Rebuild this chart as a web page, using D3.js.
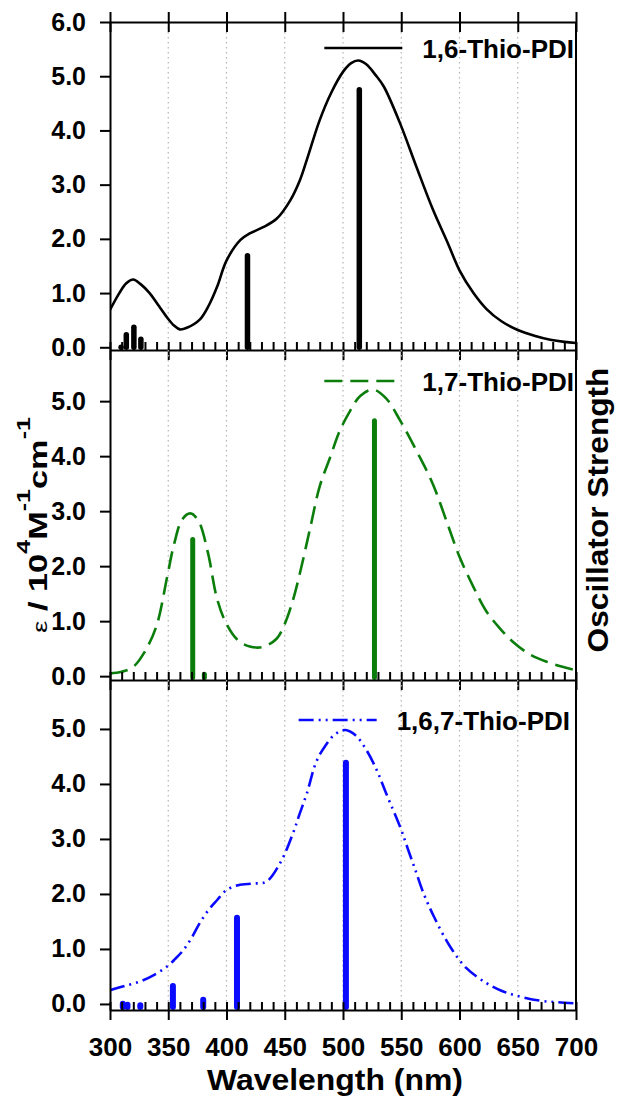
<!DOCTYPE html>
<html>
<head>
<meta charset="utf-8">
<script src="https://cdn.jsdelivr.net/npm/d3@7/dist/d3.min.js"></script>
<style>
  body { margin: 0; background: #fff; }
  svg text { font-family: Arial, "Liberation Sans", sans-serif; font-weight: bold; fill: #000; }
</style>
</head>
<body>
<svg id="chart" width="618" height="1097"></svg>
<script>
// DATA
var seriesNames = ["1,6-Thio-PDI", "1,7-Thio-PDI", "1,6,7-Thio-PDI"];

// 1,6-Thio-PDI absorption (1e4 M-1 cm-1)
var wl16 = [300,308,314,320,326,334,342,349,355,360,366,377,385,392,400,412,420,431,443,455,463,469,480,490,500,507,513,520,528,535,549,563,577,590,600,612,623,636,650,665,678,690,700];
var eps16 = [0.69,1.00,1.18,1.25,1.17,1.00,0.76,0.55,0.40,0.33,0.36,0.51,0.78,1.12,1.60,1.98,2.10,2.21,2.37,2.72,3.08,3.46,4.19,4.70,5.08,5.24,5.29,5.22,5.02,4.81,4.13,3.33,2.55,1.92,1.42,1.00,0.71,0.48,0.32,0.21,0.14,0.10,0.08];
var stickWl16 = [309.5, 314, 320.5, 326.5, 418, 514];
var stickF16 = [0.05, 0.28, 0.42, 0.20, 1.74, 4.80];

// 1,7-Thio-PDI
var wl17 = [300,310,320,330,340,349,355,362,369,376,384,392,400,410,420,431,443,450,457,463,472,480,489,497,506,515,526,537,549,563,577,590,600,612,623,635,646,660,675,690,700];
var eps17 = [0.05,0.08,0.17,0.45,0.92,1.80,2.40,2.85,2.96,2.82,2.25,1.40,0.95,0.65,0.54,0.53,0.68,0.95,1.38,1.87,2.71,3.45,3.98,4.45,4.82,5.10,5.21,5.05,4.65,4.10,3.50,2.75,2.17,1.62,1.18,0.86,0.62,0.40,0.26,0.16,0.11];
var stickWl17 = [371, 381, 527];
var stickF17 = [2.53, 0.08, 4.69];

// 1,6,7-Thio-PDI
var wl167 = [300,313,326,338,349,356,363,370,377,385,392,400,410,423,434,446,457,463,469,477,485,493,502,511,520,529,537,549,556,563,569,578,592,606,623,636,649,669,685,700];
var eps167 = [0.25,0.33,0.41,0.53,0.68,0.82,0.98,1.20,1.47,1.72,1.89,2.07,2.16,2.19,2.22,2.56,3.10,3.47,3.83,4.40,4.70,4.90,4.98,4.88,4.62,4.25,3.83,3.22,2.80,2.38,2.02,1.59,1.04,0.65,0.38,0.24,0.15,0.06,0.03,0.01];
var stickWl167 = [311, 315, 326, 354, 380, 409, 502.5];
var stickF167 = [0.06, 0.04, 0.03, 0.38, 0.13, 1.62, 4.44];

var xTickValues = [300, 350, 400, 450, 500, 550, 600, 650, 700];
var gridValues = [350, 400, 450, 500, 550, 600, 650];
var yTicksTop = [0, 1, 2, 3, 4, 5, 6];
var yTicksLower = [0, 1, 2, 3, 4, 5];

var svg = d3.select("#chart");
var left = 110, right = 576;

var x = d3.scaleLinear().domain([300, 700]).range([left, right]);

var panels = [
  { wl: wl16, eps: eps16, sWl: stickWl16, sF: stickF16, color: "#000000", dash: null,
    top: 22, bottom: 350, dom: [-0.05, 6], ticks: yTicksTop, legY: 48, textEnd: 574, stickW: 5.5 },
  { wl: wl17, eps: eps17, sWl: stickWl17, sF: stickF17, color: "#0b7d0b", dash: "18,8",
    top: 350, bottom: 680, dom: [-0.07, 5.93], ticks: yTicksLower, legY: 381, textEnd: 574, stickW: 5 },
  { wl: wl167, eps: eps167, sWl: stickWl167, sF: stickF167, color: "#0a0aff", dash: "15,5,2,5,2,5",
    top: 680, bottom: 1010, dom: [-0.11, 5.89], ticks: yTicksLower, legY: 720, textEnd: 570, stickW: 6 }
];

panels.forEach(function(p, i) {
  var y = d3.scaleLinear().domain(p.dom).range([p.bottom, p.top]);
  var g = svg.append("g");

  // dotted grid
  g.selectAll(".grid").data(gridValues).enter().append("line")
    .attr("x1", function(d) { return x(d); }).attr("x2", function(d) { return x(d); })
    .attr("y1", p.top).attr("y2", p.bottom)
    .attr("stroke", "#b4b4b4").attr("stroke-width", 1.2).attr("stroke-dasharray", "1.5,3.5");

  svg.append("clipPath").attr("id", "clip" + i).append("rect")
    .attr("x", left).attr("y", p.top).attr("width", right - left).attr("height", p.bottom - p.top);

  // oscillator strength sticks
  var yBase = y(p.dom[0]);
  g.selectAll(".stick").data(p.sWl.map(function(w, k) { return { w: w, f: p.sF[k] }; }))
    .enter().append("line")
    .attr("x1", function(d) { return x(d.w); }).attr("x2", function(d) { return x(d.w); })
    .attr("y1", yBase - p.stickW / 2)
    .attr("y2", function(d) { return Math.min(y(d.f) + p.stickW / 2, yBase - p.stickW / 2); })
    .attr("stroke", p.color).attr("stroke-width", p.stickW).attr("stroke-linecap", "round");

  // absorption curve
  var line = d3.line()
    .x(function(d) { return x(d.w); })
    .y(function(d) { return y(d.e); })
    .curve(d3.curveCatmullRom.alpha(0.5));

  g.append("path")
    .datum(p.wl.map(function(w, k) { return { w: w, e: p.eps[k] }; }))
    .attr("clip-path", "url(#clip" + i + ")")
    .attr("fill", "none").attr("stroke", p.color).attr("stroke-width", 2.6)
    .attr("stroke-dasharray", p.dash)
    .attr("d", line);

  // left axis
  var ya = g.append("g").attr("transform", "translate(" + left + ",0)")
    .call(d3.axisLeft(y).tickValues(p.ticks).tickSizeInner(10).tickSizeOuter(0).tickPadding(14)
      .tickFormat(d3.format(".1f")));
  ya.selectAll("text").style("font-size", "25px");

  // right frame
  g.append("line").attr("x1", right).attr("x2", right).attr("y1", p.top).attr("y2", p.bottom)
    .attr("stroke", "#000").attr("stroke-width", 2);

  // bottom axis: major ticks crossing, minor ticks inside
  var xb = g.append("g").attr("transform", "translate(0," + p.bottom + ")")
    .call(d3.axisBottom(x).tickValues(xTickValues).tickSizeInner(10).tickSizeOuter(0).tickPadding(18)
      .tickFormat(i === 2 ? d3.format("d") : function() { return ""; }));
  xb.selectAll("text").style("font-size", "26px");
  g.append("g").attr("transform", "translate(0," + p.bottom + ")")
    .call(d3.axisTop(x).tickValues(d3.range(300, 701, 10)).tickSizeInner(8).tickSizeOuter(0)
      .tickFormat(function() { return ""; }))
    .select(".domain").remove();

  if (i === 0) {
    g.append("g").attr("transform", "translate(0," + p.top + ")")
      .call(d3.axisTop(x).tickValues(xTickValues).tickSizeInner(10).tickSizeOuter(0).tickFormat(function() { return ""; }));
    g.append("g").attr("transform", "translate(0," + p.top + ")")
      .call(d3.axisBottom(x).tickValues(xTickValues).tickSizeInner(10).tickSizeOuter(0).tickFormat(function() { return ""; }))
      .select(".domain").remove();
  }

  // legend
  var lt = g.append("text").attr("x", p.textEnd).attr("y", p.legY + 9.5)
    .attr("text-anchor", "end").style("font-size", "26px").text(seriesNames[i]);
  var tStart = p.textEnd - lt.node().getComputedTextLength();
  g.append("line").attr("x1", tStart - 98).attr("x2", tStart - 20)
    .attr("y1", p.legY).attr("y2", p.legY)
    .attr("stroke", p.color).attr("stroke-width", 2.6).attr("stroke-dasharray", p.dash);
});

svg.selectAll(".domain").attr("stroke-width", 2);
svg.selectAll(".tick line").attr("stroke-width", 2);

function stretchTo(t, target, base) {
  var len = t.node().getComputedTextLength();
  t.attr("transform", base + " scale(" + (target / len) + ",1)");
}

// axis titles
var xt = svg.append("text").attr("text-anchor", "middle").style("font-size", "29px").text("Wavelength (nm)");
stretchTo(xt, 256, "translate(335,1090)");

var rt = svg.append("text").attr("text-anchor", "middle").style("font-size", "29px").text("Oscillator Strength");
stretchTo(rt, 285, "translate(608,510) rotate(-90)");

var yt = svg.append("text").attr("text-anchor", "middle").style("font-size", "26px");
yt.append("tspan").style("font-weight", "normal").style("font-size", "21px").text("\u03b5");
yt.append("tspan").text(" / 10");
yt.append("tspan").attr("dy", -17).style("font-size", "19px").text("4");
yt.append("tspan").attr("dy", 17).text("M");
yt.append("tspan").attr("dy", -17).style("font-size", "19px").text("-1");
yt.append("tspan").attr("dy", 17).text("cm");
yt.append("tspan").attr("dy", -17).style("font-size", "19px").text("-1");
stretchTo(yt, 216, "translate(47,525) rotate(-90)");
</script>
</body>
</html>
